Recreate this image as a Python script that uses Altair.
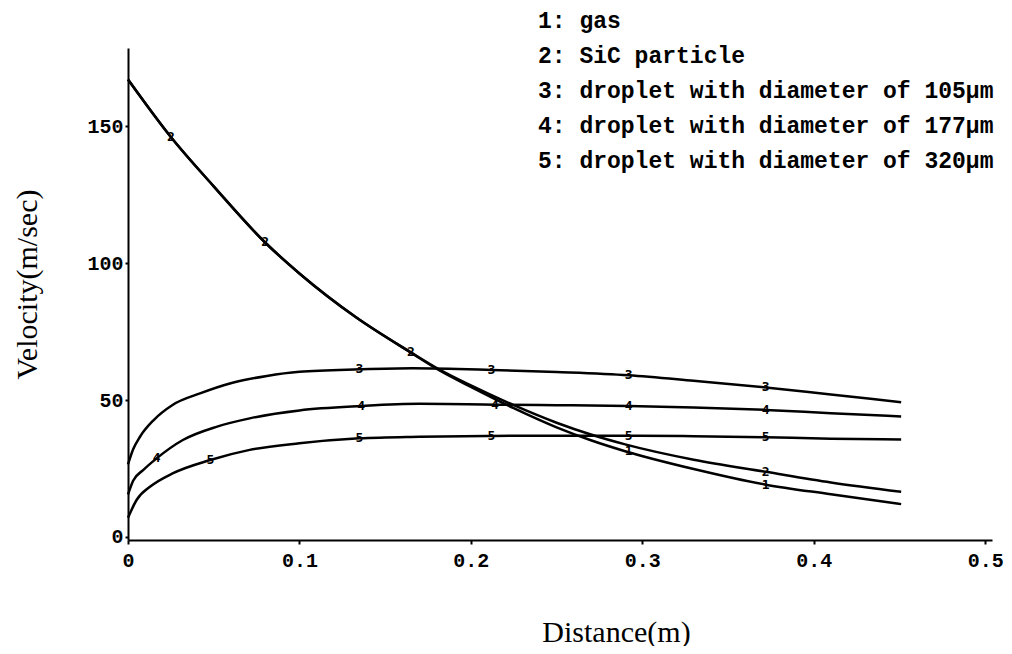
import altair as alt
import pandas as pd

# ---- data ----
names = [
    "1: gas",
    "2: SiC particle",
    "3: droplet with diameter of 105µm",
    "4: droplet with diameter of 177µm",
    "5: droplet with diameter of 320µm",
]

x_gas = [0, 0.025, 0.05, 0.08, 0.1, 0.133, 0.165, 0.182, 0.2, 0.225, 0.25, 0.27, 0.29, 0.33, 0.372, 0.41, 0.451]
y_gas = [167, 146, 128, 107.5, 96.2, 80.2, 67.3, 60.7, 54.8, 47, 40, 35.3, 31.3, 24.8, 19.1, 15.6, 12]

x_sic = [0, 0.025, 0.05, 0.08, 0.1, 0.133, 0.165, 0.182, 0.2, 0.225, 0.25, 0.27, 0.29, 0.33, 0.372, 0.41, 0.451]
y_sic = [167, 146, 128, 107.5, 96.2, 80.2, 67.4, 61, 55.3, 48.1, 41.7, 37.4, 33.8, 28.2, 23.8, 19.9, 16.5]

x_d105 = [0, 0.003, 0.007, 0.015, 0.026, 0.042, 0.061, 0.081, 0.1, 0.135, 0.166, 0.212, 0.25, 0.292, 0.33, 0.372, 0.41, 0.451]
y_d105 = [26.5, 32, 36.6, 42.7, 48.2, 52.4, 56.3, 58.8, 60.3, 61.2, 61.6, 61, 60.2, 59, 57, 54.6, 52, 49.2]

x_d177 = [0, 0.003, 0.009, 0.0167, 0.032, 0.052, 0.071, 0.1, 0.136, 0.17, 0.214, 0.25, 0.292, 0.33, 0.372, 0.41, 0.451]
y_d177 = [15.5, 20.5, 24.5, 28.7, 35.4, 40.3, 43.3, 46.2, 47.8, 48.6, 48.3, 48.1, 47.8, 47.3, 46.4, 45.2, 44]

x_d320 = [0, 0.005, 0.013, 0.026, 0.048, 0.071, 0.1, 0.135, 0.17, 0.212, 0.25, 0.292, 0.33, 0.372, 0.41, 0.451]
y_d320 = [7, 13.5, 18.4, 23.2, 28.1, 31.8, 34.2, 36, 36.6, 36.9, 37, 37, 36.8, 36.4, 35.9, 35.6]

# curve number markers drawn on the lines
marker_x = [0.292, 0.372,
            0.025, 0.08, 0.165, 0.372,
            0.135, 0.212, 0.292, 0.372,
            0.0167, 0.136, 0.214, 0.292, 0.372,
            0.048, 0.135, 0.212, 0.292, 0.372]
marker_y = [31.3, 19.1,
            146, 107.5, 67.4, 23.8,
            61.2, 61, 59, 54.6,
            28.7, 47.8, 48.3, 47.8, 46.4,
            28.1, 36, 36.9, 37, 36.4]
marker_label = ["1", "1",
                "2", "2", "2", "2",
                "3", "3", "3", "3",
                "4", "4", "4", "4", "4",
                "5", "5", "5", "5", "5"]

x_ticks = [0, 0.1, 0.2, 0.3, 0.4, 0.5]
y_ticks = [0, 50, 100, 150]

# ---- tables ----
rows = []
for name, xs, ys in zip(names,
                        [x_gas, x_sic, x_d105, x_d177, x_d320],
                        [y_gas, y_sic, y_d105, y_d177, y_d320]):
    for xv, yv in zip(xs, ys):
        rows.append({"series": name, "x": xv, "y": yv})
df = pd.DataFrame(rows)
mdf = pd.DataFrame({"x": marker_x, "y": marker_y, "label": marker_label})

x_axis = alt.Axis(
    values=x_ticks,
    labelExpr="datum.value == 0 ? '0' : format(datum.value, '.1f')",
    labelFont="Liberation Mono", labelFontWeight="bold", labelFontSize=20,
    labelColor="black", labelPadding=6, labelFlush=False, labelOverlap=False,
    tickSize=4, tickWidth=2, tickColor="black",
    domainColor="black", domainWidth=2, grid=False,
    titleFont="Liberation Serif", titleFontSize=30, titleFontWeight="normal",
    titleColor="black", titleX=488, titleY=92, titleAlign="center",
    titleBaseline="middle",
)
y_axis = alt.Axis(
    values=y_ticks,
    labelFont="Liberation Mono", labelFontWeight="bold", labelFontSize=20,
    labelColor="black", labelPadding=2, labelOverlap=False, labelFlush=False,
    tickSize=3, tickWidth=2, tickColor="black",
    domainColor="black", domainWidth=2, grid=False,
    titleFont="Liberation Serif", titleFontSize=30, titleFontWeight="normal",
    titleColor="black", titleX=-101, titleY=236, titleAlign="center",
    titleBaseline="middle", titleAngle=-90,
)

xs = alt.Scale(domain=[0, 0.504], nice=False, zero=False)
ys = alt.Scale(domain=[-1.1, 178.5], nice=False, zero=False)

X = alt.X("x:Q", scale=xs, axis=x_axis, title="Distance(m)")
Y = alt.Y("y:Q", scale=ys, axis=y_axis, title="Velocity(m/sec)")

lines = alt.Chart(df).mark_line(interpolate="monotone", strokeWidth=2.5).encode(
    x=X,
    y=Y,
    color=alt.Color(
        "series:N",
        scale=alt.Scale(domain=names, range=["black"] * 5),
        legend=alt.Legend(
            orient="none", legendX=387, legendY=-39, title=None,
            labelFont="Liberation Mono", labelFontSize=23, labelFontWeight="bold",
            labelColor="black", labelLimit=0, labelOffset=0,
            symbolSize=0, symbolStrokeWidth=0, symbolOpacity=0,
            rowPadding=11, padding=0,
        ),
    ),
)

markers = alt.Chart(mdf).mark_text(
    font="DejaVu Sans Mono", fontWeight="bold", fontSize=13, color="black",
    align="center", baseline="middle",
).encode(x=X, y=Y, text="label:N")

chart = alt.layer(lines, markers).properties(
    width=864, height=492,
    padding={"left": 120, "top": 40, "right": 12, "bottom": 106},
    autosize=alt.AutoSizeParams(type="none"),
    background="white",
).configure_view(stroke=None)

chart.save("out.html", embed_options={"renderer": "svg", "actions": False})
